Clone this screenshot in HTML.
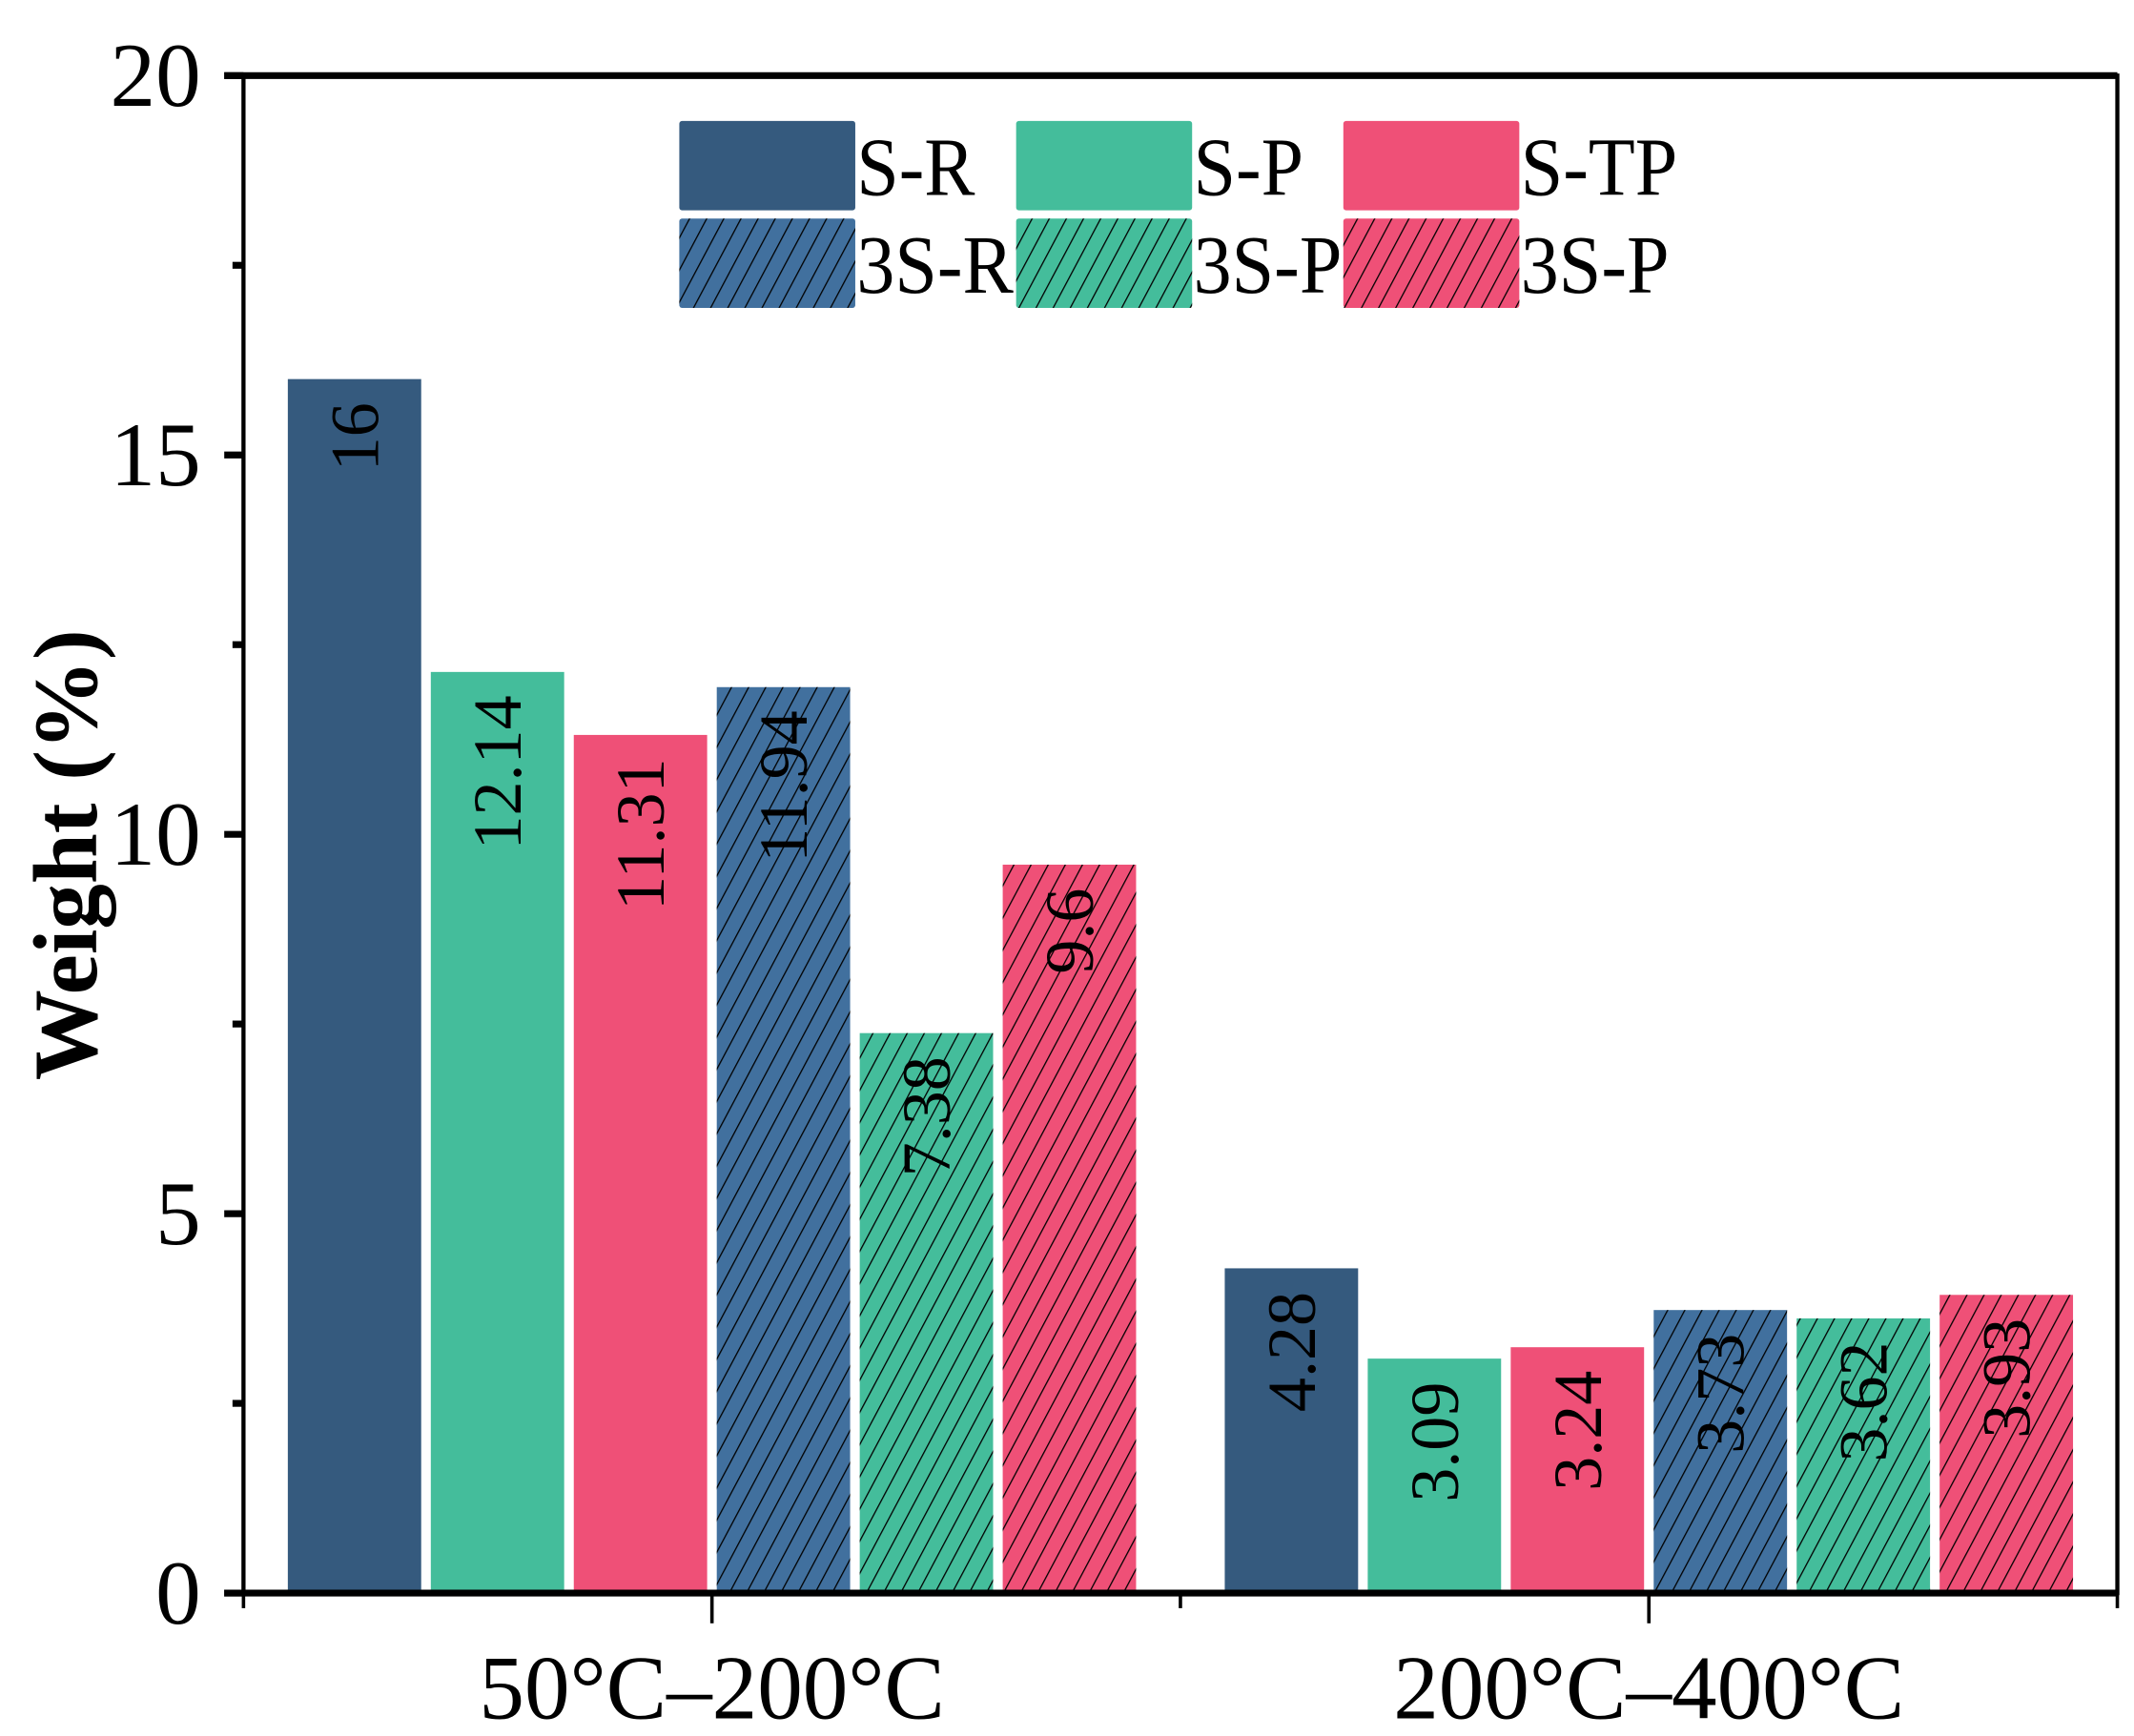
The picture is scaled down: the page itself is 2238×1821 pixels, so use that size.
<!DOCTYPE html>
<html><head><meta charset="utf-8">
<style>html,body{margin:0;padding:0;background:#fff}svg{display:block}text{font-family:"Liberation Serif",serif;fill:#000}</style>
</head><body>
<svg id="chart" width="2238" height="1821" viewBox="0 0 1552 1263" xmlns="http://www.w3.org/2000/svg">
<defs>
<pattern id="hatch" patternUnits="userSpaceOnUse" width="11" height="11" patternTransform="rotate(28)">
<line x1="0" y1="0" x2="0" y2="11" stroke="#000" stroke-width="1.8"/>
</pattern>
</defs>
<g id="bars"></g>
<g id="axes"></g>
<g id="legend"></g>
<g id="legend-text"></g>
<text transform="translate(70,622) rotate(-90)" text-anchor="middle" font-size="66" font-weight="bold">Weight (%)</text>
</svg>
<script>
const categories = ["50°C–200°C", "200°C–400°C"];
const seriesNames = ["S-R", "S-P", "S-TP", "3S-R", "3S-P", "3S-P"];
const seriesColors = ["#355a7e", "#44bd9b", "#ef5077", "#41709e", "#44bd9b", "#ef5077"];
const seriesHatched = [false, false, false, true, true, true];
const valSR = [16, 4.28];
const valSP = [12.14, 3.09];
const valSTP = [11.31, 3.24];
const val3SR = [11.94, 3.73];
const val3SP = [7.38, 3.62];
const val3STP = [9.6, 3.93];
const valueLabels = [["16","4.28"],["12.14","3.09"],["11.31","3.24"],["11.94","3.73"],["7.38","3.62"],["9.6","3.93"]];
const yTicks = [0, 5, 10, 15, 20];
const yMinor = [2.5, 7.5, 12.5, 17.5];

const series = [valSR, valSP, valSTP, val3SR, val3SP, val3STP];
const NS = "http://www.w3.org/2000/svg";
const X0 = 177, X1 = 1540, Y0 = 1159, Y1 = 55;
const y = v => Y0 - (v / 20) * (Y0 - Y1);
const catW = (X1 - X0) / categories.length;
const xc = i => X0 + catW * (i + 0.5);
const step = 104, bw = 97;
function mk(tag, attrs, parent) { const e = document.createElementNS(NS, tag); for (const k in attrs) e.setAttribute(k, attrs[k]); parent.appendChild(e); return e; }
const gB = document.getElementById('bars'), gA = document.getElementById('axes'), gL = document.getElementById('legend'), gT = document.getElementById('legend-text');

categories.forEach((c, ci) => {
  series.forEach((s, si) => {
    const cx = xc(ci) + (si - 2.5) * step;
    const x = cx - bw / 2, top = y(s[ci]);
    const r = mk('rect', {x: x, y: top, width: bw, height: Y0 - top, fill: seriesColors[si]}, gB);
    
    
    if (seriesHatched[si]) {
      const h = mk('rect', {x: x, y: top, width: bw, height: Y0 - top, fill: 'url(#hatch)'}, gB);
      
      
    }
    const t = mk('text', {transform: `translate(${cx + 17},${top + 17}) rotate(-90)`, 'text-anchor': 'end', 'font-size': 50}, gB);
    
    
    t.textContent = valueLabels[si][ci];
  });
  const xl = mk('text', {x: xc(ci), y: 1250, 'text-anchor': 'middle', 'font-size': 66}, gA);
  
  
  xl.textContent = c;
});

const fr = mk('rect', {x: X0, y: Y1, width: X1 - X0, height: Y0 - Y1, fill: 'none', stroke: '#000', 'stroke-width': 3}, gA);


const xa = mk('line', {x1: X0 - 14, x2: X1, y1: Y0, y2: Y0, stroke: '#000', 'stroke-width': 5}, gA);


const ta = mk('line', {x1: X0 - 14, x2: X1, y1: Y1, y2: Y1, stroke: '#000', 'stroke-width': 5}, gA);


yTicks.forEach(v => {
  const l = mk('line', {x1: X0 - 14, x2: X0, y1: y(v), y2: y(v), stroke: '#000', 'stroke-width': 5}, gA);
  
  
  const t = mk('text', {x: X0 - 31, y: y(v) + 22, 'text-anchor': 'end', 'font-size': 66}, gA);
  
  
  t.textContent = v;
});
yMinor.forEach(v => {
  const l = mk('line', {x1: X0 - 8, x2: X0, y1: y(v), y2: y(v), stroke: '#000', 'stroke-width': 5}, gA);
  
  
});
for (let i = 0; i <= categories.length * 2; i++) {
  const xx = X0 + catW / 2 * i;
  const len = (i % 2 === 1) ? 22 : 11;
  const l = mk('line', {x1: xx, x2: xx, y1: Y0, y2: Y0 + len, stroke: '#000', 'stroke-width': 2.5}, gA);
  
  
}

const legX = [494, 739, 977], legY = [88, 159];
const legTextW = [86, 80, 114, 114, 108, 108];
seriesNames.forEach((n, si) => {
  const col = si % 3, row = Math.floor(si / 3);
  const g = mk('g', {}, gL);
  
  
  mk('rect', {x: legX[col], y: legY[row], width: 128, height: 65, fill: seriesColors[si], rx: 2}, g);
  if (seriesHatched[si]) mk('rect', {x: legX[col], y: legY[row], width: 128, height: 65, fill: 'url(#hatch)'}, g);
  const t = mk('text', {x: legX[col] + 129, y: legY[row] + 54, 'font-size': 60, textLength: legTextW[si], lengthAdjust: 'spacingAndGlyphs'}, gT);
  
  
  t.textContent = n;
});
</script>
</body></html>
